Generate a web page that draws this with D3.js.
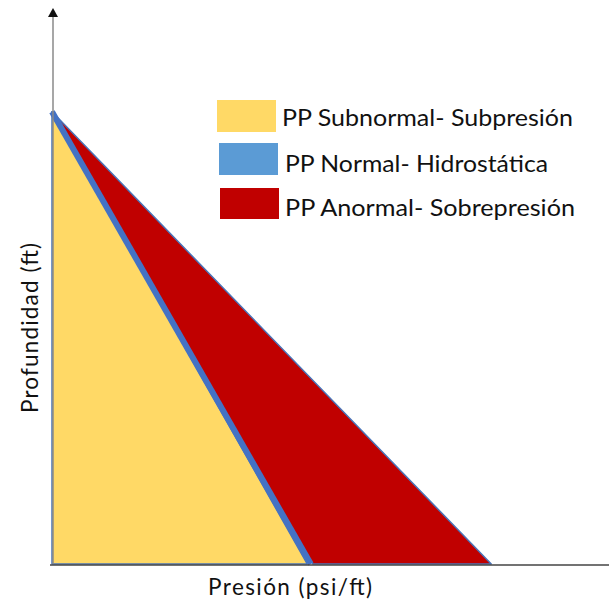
<!DOCTYPE html>
<html>
<head>
<meta charset="utf-8">
<script src="https://cdn.jsdelivr.net/npm/d3@7"></script>
<style>
  html, body { margin: 0; padding: 0; background: #fff; }
  svg { display: block; }
  text { font-family: Lato, "Open Sans", sans-serif; fill: #111; }
</style>
</head>
<body>
<script>
// Data
const categories = ["PP Subnormal- Subpresión", "PP Normal- Hidrostática", "PP Anormal- Sobrepresión"];
const legendColors = ["#FFD966", "#5B9BD5", "#C00000"];
const fillColors = ["#FFD966", "#4472C4", "#C00000"];
const bottomStart = [0, 0.459, 0.469];   // pressure at base, left edge of each region
const bottomEnd = [0.459, 0.469, 0.79];   // pressure at base, right edge of each region
const normalLineBottom = 0.4655;          // hydrostatic gradient at base
const apexDepth = 0.812;
const xTitle = "Presión (psi/ft)";
const yTitle = "Profundidad (ft)";

const W = 609, H = 603;
const svg = d3.select("body").append("svg").attr("width", W).attr("height", H);

const x = d3.scaleLinear().domain([0, 1]).range([52, 608]);
const y = d3.scaleLinear().domain([0, 1]).range([564, 7]);

const line = d3.line().x(d => x(d[0])).y(d => y(d[1]));

// subnormal and abnormal regions
const regions = [0, 2].map(i => ({
  pts: [[0, apexDepth], [bottomStart[i], 0], [bottomEnd[i], 0]],
  fill: fillColors[i]
}));
svg.selectAll("path.region").data(regions).join("path")
  .attr("class", "region")
  .attr("d", d => line(d.pts) + "Z")
  .attr("fill", d => d.fill)
  .attr("stroke", "#4A74B8")
  .attr("stroke-width", 1.5)
  .attr("stroke-linejoin", "round");

// hydrostatic (normal) line
svg.append("path")
  .attr("d", line([[0, apexDepth], [normalLineBottom, 0]]))
  .attr("fill", "none")
  .attr("stroke", fillColors[1])
  .attr("stroke-width", 6);

// axes
svg.append("line").attr("x1", x(0) + 1).attr("x2", x(0) + 1).attr("y1", y(0)).attr("y2", 16)
  .attr("stroke", "#8a8a8a").attr("stroke-width", 1.5);
svg.append("path")
  .attr("d", `M${x(0)+1},8 L${x(0)+6},17 L${x(0)-4},17 Z`)
  .attr("fill", "#111");
svg.append("line").attr("x1", 50).attr("x2", 609).attr("y1", y(0) + 1).attr("y2", y(0) + 1)
  .attr("stroke", "#444").attr("stroke-width", 1.5);

// axis titles
svg.append("text").attr("x", 290).attr("y", 595).attr("text-anchor", "middle")
  .attr("font-size", 22.5).attr("textLength", 164).text(xTitle);
svg.append("text").attr("transform", "translate(38,328) rotate(-90)").attr("text-anchor", "middle")
  .attr("font-size", 22.5).attr("textLength", 170).text(yTitle);

// legend
const boxes = [[217, 100, 59, 32], [219, 143, 59, 32], [220, 188, 59, 31]];
const texts = [[282, 126, 291], [285, 172, 263], [285, 216, 290]];
categories.forEach((c, i) => {
  svg.append("rect").attr("x", boxes[i][0]).attr("y", boxes[i][1])
    .attr("width", boxes[i][2]).attr("height", boxes[i][3]).attr("fill", legendColors[i]);
  svg.append("text").attr("x", texts[i][0]).attr("y", texts[i][1])
    .attr("font-size", 22.5).attr("textLength", texts[i][2]).attr("lengthAdjust", "spacingAndGlyphs").text(c);
});
</script>
</body>
</html>
